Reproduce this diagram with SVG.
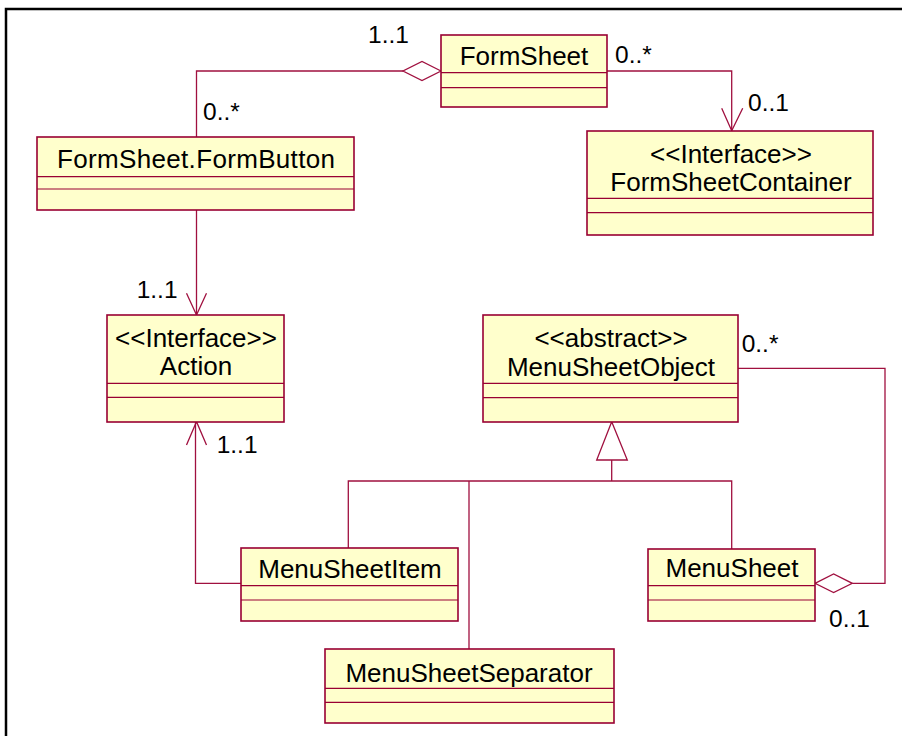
<svg xmlns="http://www.w3.org/2000/svg" width="911" height="736" viewBox="0 0 911 736">
  <style>
    .box { fill: #FFFFCC; stroke: #990033; stroke-width: 1.6; }
    .div { stroke: #990033; stroke-width: 1.2; }
    .name { font-family: "Liberation Sans", Arial, sans-serif; font-size: 26px; fill: #000; text-anchor: middle; }
    .lbl { font-family: "Liberation Sans", Arial, sans-serif; font-size: 24.5px; fill: #000; }
    .conn { fill: none; stroke: #A0103F; stroke-width: 1.3; }
    .head { fill: #fff; stroke: #A0103F; stroke-width: 1.3; }
  </style>

  <rect width="911" height="736" fill="#fff"/>
  <!-- frame -->
  <path d="M902,9 H6 V736" fill="none" stroke="#000" stroke-width="2.5"/>

  <!-- connectors -->
  <g id="connectors">
    <!-- FormSheet aggregates FormButton -->
    <path class="conn" d="M196.5,137 V71 H403"/>
    <polygon class="head" points="441,71 422,61.5 403,71 422,80.5"/>
    <!-- FormSheet -> FormSheetContainer -->
    <path class="conn" d="M607,71 H731.7 V130.7"/>
    <polyline class="conn" points="721.7,108.3 731.7,130.7 742.7,108.3"/>
    <!-- FormButton -> Action -->
    <path class="conn" d="M196.5,210 V315"/>
    <polyline class="conn" points="186.5,293.3 196.5,315 206.5,293.3"/>
    <!-- MenuSheetItem -> Action -->
    <path class="conn" d="M241,583.3 H195.5 V421.7"/>
    <polyline class="conn" points="186.5,445 196.5,421.7 206.5,445"/>
    <!-- generalization to MenuSheetObject -->
    <path class="conn" d="M611.7,460 V481 M348.3,548 V481 H731.7 V549 M469,481 V649"/>
    <polygon class="head" points="611.7,421.7 596.7,460 627.3,460"/>
    <!-- MenuSheet aggregates MenuSheetObject -->
    <path class="conn" d="M852.3,583.3 H885 V368.3 H738"/>
    <polygon class="head" points="815,583.3 833.6,574 852.3,583.3 833.6,592.6"/>

    <text class="lbl" x="368" y="43">1..1</text>
    <text class="lbl" x="615" y="63.3">0..*</text>
    <text class="lbl" x="203" y="120">0..*</text>
    <text class="lbl" x="748" y="110.7">0..1</text>
    <text class="lbl" x="136.7" y="298.3">1..1</text>
    <text class="lbl" x="216.7" y="453.3">1..1</text>
    <text class="lbl" x="741.7" y="351.7">0..*</text>
    <text class="lbl" x="829" y="627.3">0..1</text>
  </g>

  <g id="FormSheet">
    <rect class="box" x="441" y="35" width="166" height="72"/>
    <line class="div" x1="441" y1="72.7" x2="607" y2="72.7"/>
    <line class="div" x1="441" y1="87.7" x2="607" y2="87.7"/>
    <text class="name" x="524" y="65">FormSheet</text>
  </g>

  <g id="FormButton">
    <rect class="box" x="37" y="137" width="317" height="73"/>
    <line class="div" x1="37" y1="176.7" x2="354" y2="176.7"/>
    <line class="div" x1="37" y1="189" x2="354" y2="189"/>
    <text class="name" x="196" y="168" textLength="278" lengthAdjust="spacing">FormSheet.FormButton</text>
  </g>

  <g id="FormSheetContainer">
    <rect class="box" x="587" y="131" width="286" height="104"/>
    <line class="div" x1="587" y1="198.3" x2="873" y2="198.3"/>
    <line class="div" x1="587" y1="212.7" x2="873" y2="212.7"/>
    <text class="name" x="731" y="162.7">&lt;&lt;Interface&gt;&gt;</text>
    <text class="name" x="731" y="190.7">FormSheetContainer</text>
  </g>

  <g id="Action">
    <rect class="box" x="107" y="315" width="177" height="107"/>
    <line class="div" x1="107" y1="383.3" x2="284" y2="383.3"/>
    <line class="div" x1="107" y1="397.3" x2="284" y2="397.3"/>
    <text class="name" x="196" y="346.7">&lt;&lt;Interface&gt;&gt;</text>
    <text class="name" x="196" y="375.3">Action</text>
  </g>

  <g id="MenuSheetObject">
    <rect class="box" x="483" y="315" width="255" height="107"/>
    <line class="div" x1="483" y1="383.3" x2="738" y2="383.3"/>
    <line class="div" x1="483" y1="397.7" x2="738" y2="397.7"/>
    <text class="name" x="611" y="346.7">&lt;&lt;abstract&gt;&gt;</text>
    <text class="name" x="611" y="376">MenuSheetObject</text>
  </g>

  <g id="MenuSheetItem">
    <rect class="box" x="241" y="548" width="217" height="73"/>
    <line class="div" x1="241" y1="585.7" x2="458" y2="585.7"/>
    <line class="div" x1="241" y1="600" x2="458" y2="600"/>
    <text class="name" x="350" y="578.3">MenuSheetItem</text>
  </g>

  <g id="MenuSheet">
    <rect class="box" x="648" y="549" width="167" height="72"/>
    <line class="div" x1="648" y1="585.7" x2="815" y2="585.7"/>
    <line class="div" x1="648" y1="600" x2="815" y2="600"/>
    <text class="name" x="732" y="576.7">MenuSheet</text>
  </g>

  <g id="MenuSheetSeparator">
    <rect class="box" x="325" y="649" width="289" height="74"/>
    <line class="div" x1="325" y1="688.3" x2="614" y2="688.3"/>
    <line class="div" x1="325" y1="702.3" x2="614" y2="702.3"/>
    <text class="name" x="469" y="681.7">MenuSheetSeparator</text>
  </g>
</svg>
